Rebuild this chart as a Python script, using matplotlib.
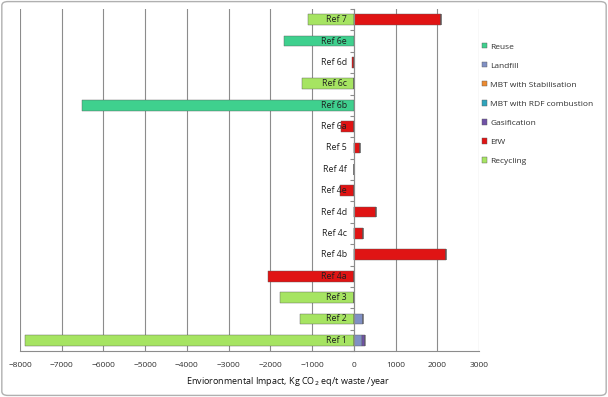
import numpy as np
import matplotlib.pyplot as plt
from matplotlib.patches import FancyBboxPatch

plt.rcParams['font.family'] = ['Open Sans', 'DejaVu Sans']

categories = ['Ref 1', 'Ref 2', 'Ref 3', 'Ref 4a', 'Ref 4b', 'Ref 4c', 'Ref 4d', 'Ref 4e',
              'Ref 4f', 'Ref 5', 'Ref 6a', 'Ref 6b', 'Ref 6c', 'Ref 6d', 'Ref 6e', 'Ref 7']

# one value per category, in the order above
recycling = [-7880, -1280, -1760, 0, 0, 0, 0, 0, 0, 0, 0, 0, -1250, 0, 0, -1100]
efw = [0, 0, 0, -2060, 2200, 230, 520, -320, 0, 150, -310, 0, 0, -50, 0, 2100]
landfill = [190, 220, 0, 0, 0, 0, 0, 0, 0, 0, 0, 0, 0, 0, 0, 0]
gasification = [70, 0, 0, 0, 0, 0, 0, 0, 0, 0, 0, 0, 0, 0, 0, 0]
mbt_rdf = [0] * 16
mbt_stab = [0] * 16
reuse = [0, 0, 0, 0, 0, 0, 0, 0, 0, 0, 0, -6520, 0, 0, -1680, 0]

# stacking order (from the zero line outwards)
series = [
    ('Recycling', recycling, '#a6e462'),
    ('EfW', efw, '#e01414'),
    ('Landfill', landfill, '#8090c4'),
    ('Gasification', gasification, '#7052a6'),
    ('MBT with RDF combustion', mbt_rdf, '#30a4bc'),
    ('MBT with Stabilisation', mbt_stab, '#ec8a30'),
    ('Reuse', reuse, '#3fd08e'),
]

fig = plt.figure(figsize=(6.08, 3.97), dpi=100)
ax = fig.add_axes([20 / 608, 1 - 351 / 397, (479 - 20) / 608, (351 - 9) / 397])

y = np.arange(len(categories))
pos_base = np.zeros(len(categories))
neg_base = np.zeros(len(categories))
handles = {}
for name, vals, col in series:
    vals = np.array(vals, dtype=float)
    left = np.where(vals >= 0, pos_base, neg_base)
    h = ax.barh(y, vals, left=left, height=0.5, color=col,
                edgecolor='#5a5a5a', linewidth=0.3, zorder=3)
    handles[name] = h
    pos_base += np.where(vals > 0, vals, 0)
    neg_base += np.where(vals < 0, vals, 0)

ax.set_xlim(-8000, 3000)
ax.set_ylim(-0.5, len(categories) - 0.5)
ax.set_xticks(np.arange(-8000, 3001, 1000))
ax.tick_params(axis='x', labelsize=6, colors='#303030', length=0, pad=8)
ax.grid(axis='x', color='#8c8c8c', linewidth=0.8, zorder=0)

ax.spines['left'].set_position(('data', 0))
ax.spines['left'].set_color('#8c8c8c')
ax.spines['left'].set_zorder(4)
ax.spines['bottom'].set_color('#8c8c8c')
ax.spines['top'].set_visible(False)
ax.spines['right'].set_visible(False)
ax.set_yticks(np.arange(-0.5, len(categories), 1))
ax.set_yticklabels([])
ax.tick_params(axis='y', length=3, color='#8c8c8c')

# category labels sit next to the zero line, on top of the bars
for i, name in enumerate(categories):
    ax.text(-170, i, name, ha='right', va='center', fontsize=6.3,
            color='#202020', zorder=6)

fig.text(288 / 608, 1 - 381 / 397, 'Envioronmental Impact, Kg CO$_2$ eq/t waste /year',
         ha='center', va='center', fontsize=6.5, color='#101010')

order = ['Reuse', 'Landfill', 'MBT with Stabilisation', 'MBT with RDF combustion',
         'Gasification', 'EfW', 'Recycling']
leg = fig.legend([handles[n] for n in order], order, loc='upper left',
                 bbox_to_anchor=(482 / 608, 1 - 43 / 397), fontsize=6,
                 frameon=False, handlelength=0.6, handleheight=0.6,
                 labelspacing=1.38, borderpad=0, handletextpad=0.4,
                 borderaxespad=0)
for t in leg.get_texts():
    t.set_color('#303030')

fig.patches.append(FancyBboxPatch((0.003, 0.004), 0.994, 0.992,
                                  boxstyle='round,pad=0,rounding_size=0.01',
                                  transform=fig.transFigure, fill=False,
                                  edgecolor='#b0b0b0', linewidth=1))

fig.savefig('out.png', dpi=100)
